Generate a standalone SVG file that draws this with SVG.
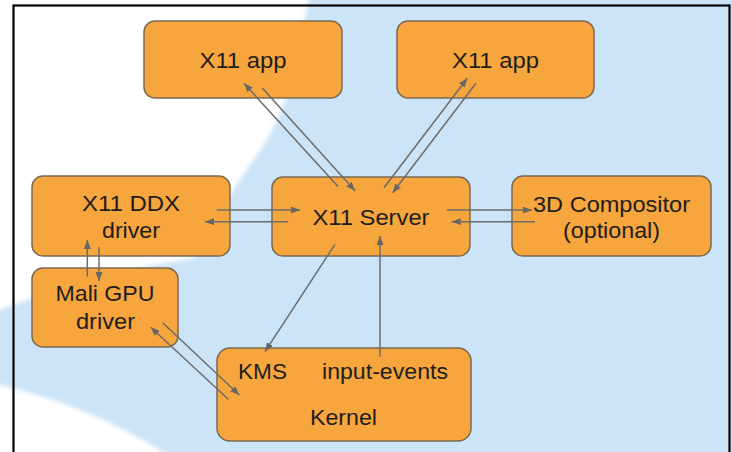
<svg xmlns="http://www.w3.org/2000/svg" width="732" height="452" viewBox="0 0 732 452">
<defs>
<filter id="soft" x="-10%" y="-10%" width="120%" height="120%"><feGaussianBlur stdDeviation="2"/></filter>
<marker id="ah" markerWidth="9" markerHeight="7" refX="9" refY="3.5" orient="auto" markerUnits="userSpaceOnUse">
<path d="M0,0 L9,3.5 L0,7 Z" fill="#666"/>
</marker>
</defs>
<style>
.box{fill:#f7a53d;stroke:#7b6a52;stroke-width:1.5}
.t{font-family:"Liberation Sans",Arial,sans-serif;font-size:22px;fill:#1e1e1e;text-anchor:middle}
.c line{stroke:#6c6c6c;stroke-width:1.5;marker-end:url(#ah)}
</style>
<rect x="0" y="0" width="732" height="452" fill="#cce4f7"/>
<g filter="url(#soft)" fill="#ffffff">
<path d="M-10,-10 L309,-10 L308,0 C300,60 285,120 250,165 C225,200 210,235 195,258 C130,268 60,285 -10,314 Z"/>
<path d="M-10,383 C60,398 120,423 178,462 L-10,462 Z"/>
</g>
<rect x="13.5" y="5.5" width="716" height="470" fill="none" stroke="#000" stroke-width="2.2"/>

<g id="app1"><rect class="box" x="144" y="21" width="198" height="77" rx="11"/><text class="t" x="243" y="68" textLength="87" lengthAdjust="spacingAndGlyphs">X11 app</text></g>
<g id="app2"><rect class="box" x="397" y="21" width="197" height="77" rx="11"/><text class="t" x="495.5" y="68" textLength="87" lengthAdjust="spacingAndGlyphs">X11 app</text></g>
<g id="ddx"><rect class="box" x="32" y="176" width="198" height="80" rx="11"/><text class="t" x="131" y="211" textLength="98" lengthAdjust="spacingAndGlyphs">X11 DDX</text><text class="t" x="131" y="238" textLength="58" lengthAdjust="spacingAndGlyphs">driver</text></g>
<g id="server"><rect class="box" x="272" y="177" width="198" height="79" rx="11"/><text class="t" x="371" y="225" textLength="117" lengthAdjust="spacingAndGlyphs">X11 Server</text></g>
<g id="compositor"><rect class="box" x="512" y="176" width="199" height="80" rx="11"/><text class="t" x="611.5" y="212" textLength="157" lengthAdjust="spacingAndGlyphs">3D Compositor</text><text class="t" x="611.5" y="238" textLength="97" lengthAdjust="spacingAndGlyphs">(optional)</text></g>
<g id="mali"><rect class="box" x="32" y="268" width="146" height="79" rx="11"/><text class="t" x="105" y="301" textLength="99" lengthAdjust="spacingAndGlyphs">Mali GPU</text><text class="t" x="105.5" y="329" textLength="59" lengthAdjust="spacingAndGlyphs">driver</text></g>
<g id="kernel"><rect class="box" x="217" y="348" width="254" height="93" rx="13"/><text class="t" x="262.5" y="379" textLength="49" lengthAdjust="spacingAndGlyphs">KMS</text><text class="t" x="385" y="379" textLength="126" lengthAdjust="spacingAndGlyphs">input-events</text><text class="t" x="343.5" y="425" textLength="67" lengthAdjust="spacingAndGlyphs">Kernel</text></g>

<g id="connectors" class="c">
<line x1="338" y1="186.5" x2="244" y2="83.3"/>
<line x1="262.5" y1="88.3" x2="355" y2="190.8"/>
<line x1="384" y1="187.7" x2="467.3" y2="78.3"/>
<line x1="476" y1="83.3" x2="392.7" y2="192.7"/>
<line x1="216.7" y1="210" x2="300" y2="210"/>
<line x1="288.3" y1="221.7" x2="205" y2="221.7"/>
<line x1="446.7" y1="210" x2="531.7" y2="210"/>
<line x1="535" y1="221.7" x2="451.7" y2="221.7"/>
<line x1="87.3" y1="276.7" x2="87.3" y2="240"/>
<line x1="99" y1="247.3" x2="99" y2="281"/>
<line x1="335" y1="244.3" x2="265" y2="351.7"/>
<line x1="380" y1="356.7" x2="380" y2="236"/>
<line x1="228.3" y1="399.3" x2="150.7" y2="327.3"/>
<line x1="162.7" y1="322.7" x2="239.3" y2="395"/>
</g>
</svg>
